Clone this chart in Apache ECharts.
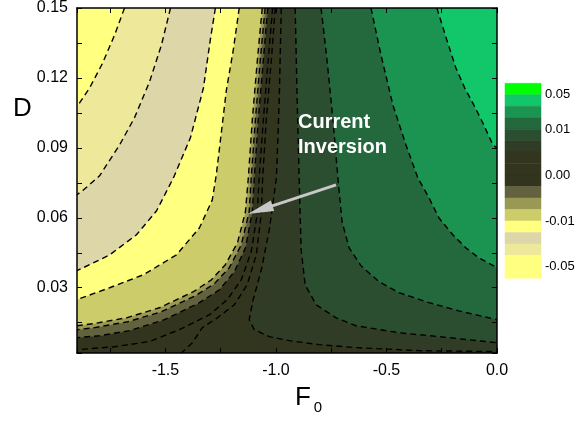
<!DOCTYPE html>
<html>
<head>
<meta charset="utf-8">
<script src="https://cdn.jsdelivr.net/npm/echarts@6/dist/echarts.min.js"></script>
<style>
  html, body { margin: 0; padding: 0; background: #ffffff; }
  #chart { width: 579px; height: 423px; }
</style>
</head>
<body>
<div id="chart"></div>
<script>
// Plot ranges
const F0_MIN = -1.9, F0_MAX = 0.0;
const D_MIN = 0.002, D_MAX = 0.15;

// Colour of each level, top of the colour bar first (level 1 .. level 16)
const levelColors = ['#00ff00', '#12c66a', '#1a9450', '#24683e', '#2b4e30', '#313c26',
  '#33361f', '#33351e', '#33341e', '#63623f', '#999955', '#cccc6a',
  '#ffff80', '#dcd6a8', '#ede89a', '#ffff80'];

// Colour bar: block edges (in block units, top to bottom) and its labels
const cbarEdges = [0, 1, 2, 3, 4, 5, 6, 7, 8, 9, 10, 11, 12, 13, 14, 15, 17];
const cbarTickPos = [1, 4, 8, 12, 16];
const cbarTickText = ['0.05', '0.01', '0.00', '-0.01', '-0.05'];

// Contour lines [F0, D] that bend towards the left edge (the region above/left of each
// line belongs to the first level in its name)
const bound16_15 = [[-1.685, 0.15], [-1.730, 0.1384], [-1.784, 0.1264], [-1.843, 0.1157], [-1.9, 0.1076]];
const bound15_14 = [[-1.477, 0.15], [-1.518, 0.1341], [-1.572, 0.1183], [-1.640, 0.1029], [-1.707, 0.0913],
  [-1.798, 0.0780], [-1.870, 0.0720], [-1.9, 0.0699]];
const bound14_13 = [[-1.274, 0.15], [-1.297, 0.1363], [-1.328, 0.1157], [-1.387, 0.0943], [-1.464, 0.0771],
  [-1.540, 0.0630], [-1.631, 0.0527], [-1.752, 0.0441], [-1.843, 0.0399], [-1.9, 0.0373]];
const bound13_12 = [[-1.166, 0.15], [-1.193, 0.1320], [-1.224, 0.1149], [-1.251, 0.0934], [-1.270, 0.0784],
  [-1.288, 0.0677], [-1.346, 0.0557], [-1.450, 0.0441], [-1.599, 0.0356], [-1.752, 0.0300], [-1.9, 0.0249]];
const bound12_11 = [[-1.062, 0.15], [-1.084, 0.1277], [-1.107, 0.1020], [-1.125, 0.0771], [-1.138, 0.0626],
  [-1.174, 0.0493], [-1.229, 0.0399], [-1.292, 0.0334], [-1.373, 0.0283], [-1.527, 0.0214], [-1.676, 0.0171],
  [-1.825, 0.0146], [-1.9, 0.0137]];
const bound11_10 = [[-1.049, 0.15], [-1.071, 0.1277], [-1.093, 0.1020], [-1.112, 0.0771], [-1.121, 0.0626],
  [-1.157, 0.0484], [-1.211, 0.0386], [-1.279, 0.0317], [-1.364, 0.0266], [-1.518, 0.0197], [-1.671, 0.0154],
  [-1.820, 0.0129], [-1.9, 0.0120]];
const bound10_9 = [[-1.037, 0.15], [-1.057, 0.1277], [-1.080, 0.1020], [-1.098, 0.0771], [-1.107, 0.0626],
  [-1.138, 0.0471], [-1.188, 0.0369], [-1.256, 0.0291], [-1.346, 0.0236], [-1.504, 0.0163], [-1.662, 0.0116],
  [-1.798, 0.0094], [-1.9, 0.0086]];
const bound9_8 = [[-1.015, 0.15], [-1.035, 0.1277], [-1.057, 0.1020], [-1.076, 0.0771], [-1.085, 0.0613],
  [-1.112, 0.0454], [-1.157, 0.0334], [-1.220, 0.0249], [-1.301, 0.0184], [-1.437, 0.0120], [-1.572, 0.0069],
  [-1.730, 0.0047], [-1.9, 0.0034]];
const bound8_7 = [[-1.003, 0.15], [-1.021, 0.1277], [-1.044, 0.1020], [-1.060, 0.0771], [-1.067, 0.0613],
  [-1.089, 0.0441], [-1.130, 0.0313], [-1.188, 0.0227], [-1.265, 0.0171], [-1.333, 0.0129], [-1.378, 0.0064],
  [-1.428, 0.002]];
const bound7_6 = [[-0.976, 0.15], [-0.985, 0.1106], [-0.998, 0.0771], [-1.030, 0.0549], [-1.066, 0.0377],
  [-1.103, 0.0249], [-1.121, 0.0163], [-1.098, 0.0120], [-1.030, 0.0090], [-0.940, 0.0073], [-0.805, 0.0056],
  [-0.638, 0.0043], [-0.353, 0.0030], [0, 0.0026]];

// Contour lines that bend towards the right edge (the region right of each line
// belongs to the second level in its name)
const bound6_5 = [[-0.913, 0.15], [-0.904, 0.1106], [-0.895, 0.0771], [-0.886, 0.0463], [-0.868, 0.0313],
  [-0.818, 0.0227], [-0.728, 0.0171], [-0.638, 0.0137], [-0.444, 0.0107], [-0.219, 0.0086], [0, 0.0064]];
const bound5_4 = [[-0.796, 0.15], [-0.769, 0.1277], [-0.742, 0.1020], [-0.719, 0.0763], [-0.701, 0.0583],
  [-0.669, 0.0471], [-0.615, 0.0394], [-0.534, 0.0326], [-0.444, 0.0279], [-0.308, 0.0236], [-0.173, 0.0201],
  [0, 0.0163]];
const bound4_3 = [[-0.570, 0.15], [-0.525, 0.1299], [-0.471, 0.1084], [-0.412, 0.0913], [-0.358, 0.0771],
  [-0.308, 0.0686], [-0.263, 0.0600], [-0.200, 0.0527], [-0.141, 0.0471], [-0.083, 0.0429], [0, 0.0386]];
const bound3_2 = [[-0.272, 0.15], [-0.227, 0.1363], [-0.186, 0.1243], [-0.146, 0.1157], [-0.105, 0.1084],
  [-0.060, 0.0999], [-0.019, 0.0913], [0, 0.0900]];

// Annotation arrow (tail, head centre) in data space
const arrowTail = [-0.728, 0.0741];
const arrowHead = [-1.0715, 0.0634];

const leftBounds = [bound7_6, bound8_7, bound9_8, bound10_9, bound11_10, bound12_11,
  bound13_12, bound14_13, bound15_14, bound16_15];
const leftLevels = [7, 8, 9, 10, 11, 12, 13, 14, 15, 16];
const rightBounds = [bound6_5, bound5_4, bound4_3, bound3_2];
const rightLevels = [5, 4, 3, 2];
const baseLevel = 6;

// Position of a border point along the frame: 0..1 top, 1..2 right, 2..3 bottom, 3..4 left
function edgeT(p) {
  const x = p[0], y = p[1], e = 1e-9;
  if (Math.abs(y - D_MAX) < e) return (x - F0_MIN) / (F0_MAX - F0_MIN);
  if (Math.abs(x - F0_MAX) < e) return 1 + (D_MAX - y) / (D_MAX - D_MIN);
  if (Math.abs(y - D_MIN) < e) return 2 + (F0_MAX - x) / (F0_MAX - F0_MIN);
  return 3 + (y - D_MIN) / (D_MAX - D_MIN);
}
const frameCorners = [[1, [F0_MAX, D_MAX]], [2, [F0_MAX, D_MIN]], [3, [F0_MIN, D_MIN]], [4, [F0_MIN, D_MAX]]];

// Close a contour into the polygon on its outer side along the frame
function sidePolygon(path, towardLeft) {
  const ts = edgeT(path[0]);
  const te = edgeT(path[path.length - 1]);
  let extra;
  if (towardLeft) {
    extra = frameCorners.filter(c => c[0] > te).map(c => c[1]);
  } else {
    extra = frameCorners.filter(c => c[0] > ts && c[0] < te).reverse().map(c => c[1]);
  }
  return path.concat(extra);
}

const fills = [{
  pts: [[F0_MIN, D_MIN], [F0_MAX, D_MIN], [F0_MAX, D_MAX], [F0_MIN, D_MAX]],
  color: levelColors[baseLevel - 1]
}];
leftBounds.forEach((b, i) => fills.push({ pts: sidePolygon(b, true), color: levelColors[leftLevels[i] - 1] }));
rightBounds.forEach((b, i) => fills.push({ pts: sidePolygon(b, false), color: levelColors[rightLevels[i] - 1] }));

const FONT = "'Liberation Sans', Arial, Helvetica, sans-serif";

const chart = echarts.init(document.getElementById('chart'), null, { renderer: 'canvas' });

const frameLine = { show: true, onZero: false, lineStyle: { color: '#000', width: 1.5 } };
const innerTick = { show: true, inside: true, length: 5, lineStyle: { color: '#000', width: 1 } };

function xTickLabel(v) {
  const k = v / 0.25;
  if (Math.abs(k - Math.round(k)) > 1e-6 || Math.round(k) % 2) return '';
  return v === 0 ? '0.0' : '-' + v.toFixed(1);
}
function yTickLabel(v) {
  const k = v / 0.015;
  if (Math.abs(k - Math.round(k)) > 1e-6 || Math.round(k) % 2) return '';
  return (D_MAX - v).toFixed(2);
}
function cbarLabel(v) {
  const i = cbarTickPos.indexOf(Math.round(v));
  return (i >= 0 && Math.abs(v - Math.round(v)) < 1e-6) ? cbarTickText[i] : '';
}

const series = [];

// Filled bands
series.push({
  type: 'custom',
  xAxisIndex: 0, yAxisIndex: 0,
  clip: true,
  silent: true,
  z: 1,
  data: fills.map(() => [F0_MIN, D_MIN]),
  renderItem: function (params, api) {
    const f = fills[params.dataIndex];
    return {
      type: 'polygon',
      shape: { points: f.pts.map(p => api.coord(p)) },
      style: { fill: f.color, stroke: f.color, lineWidth: 0.5 }
    };
  }
});

// Dashed contour lines
leftBounds.concat(rightBounds).forEach(b => {
  series.push({
    type: 'line',
    xAxisIndex: 0, yAxisIndex: 0,
    data: b,
    showSymbol: false,
    silent: true,
    z: 3,
    clip: true,
    lineStyle: { color: '#000', width: 1.4, type: [6, 4] }
  });
});

// Annotation arrow
series.push({
  type: 'line',
  xAxisIndex: 0, yAxisIndex: 0,
  data: [],
  z: 4,
  markLine: {
    silent: true,
    animation: false,
    symbol: ['none', 'triangle'],
    symbolSize: [11, 26],
    label: { show: false },
    lineStyle: { color: '#c8c8c8', width: 3, type: 'solid' },
    emphasis: { disabled: true },
    data: [[{ coord: arrowTail }, { coord: arrowHead }]]
  }
});

// Colour bar blocks
series.push({
  type: 'custom',
  xAxisIndex: 3, yAxisIndex: 3,
  silent: true,
  data: cbarEdges.slice(0, -1).map((e, i) => [e, cbarEdges[i + 1], i]),
  renderItem: function (params, api) {
    const p0 = api.coord([0, api.value(0)]);
    const p1 = api.coord([1, api.value(1)]);
    const c = levelColors[api.value(2)];
    return {
      type: 'rect',
      shape: { x: p0[0], y: Math.min(p0[1], p1[1]), width: p1[0] - p0[0], height: Math.abs(p1[1] - p0[1]) },
      style: { fill: c, stroke: c, lineWidth: 0.5 }
    };
  }
});

chart.setOption({
  animation: false,
  backgroundColor: '#ffffff',
  textStyle: { fontFamily: FONT },
  grid: [
    { left: 77, top: 8, width: 420, height: 345 },
    { left: 505, top: 83.3, width: 36, height: 195 }
  ],
  xAxis: [
    { type: 'value', gridIndex: 0, min: F0_MIN, max: F0_MAX, show: false },
    {
      type: 'value', gridIndex: 0, position: 'bottom', min: 0, max: 1.9, inverse: true, interval: 0.25, z: 10,
      axisLine: frameLine, axisTick: innerTick, splitLine: { show: false },
      axisLabel: { formatter: xTickLabel, color: '#000', fontSize: 16, margin: 10, fontFamily: FONT }
    },
    {
      type: 'value', gridIndex: 0, position: 'top', min: 0, max: 1.9, inverse: true, interval: 0.25, z: 10,
      axisLine: frameLine, axisTick: innerTick, splitLine: { show: false }, axisLabel: { show: false }
    },
    { type: 'value', gridIndex: 1, min: 0, max: 1, show: false }
  ],
  yAxis: [
    { type: 'value', gridIndex: 0, min: D_MIN, max: D_MAX, show: false },
    {
      type: 'value', gridIndex: 0, position: 'left', min: 0, max: D_MAX - D_MIN, inverse: true, interval: 0.015, z: 10,
      axisLine: frameLine, axisTick: innerTick, splitLine: { show: false },
      axisLabel: { formatter: yTickLabel, color: '#000', fontSize: 16, margin: 9, fontFamily: FONT }
    },
    {
      type: 'value', gridIndex: 0, position: 'right', min: 0, max: D_MAX - D_MIN, inverse: true, interval: 0.015, z: 10,
      axisLine: frameLine, axisTick: innerTick, splitLine: { show: false }, axisLabel: { show: false }
    },
    {
      type: 'value', gridIndex: 1, position: 'right', min: 0, max: 17, inverse: true, interval: 1,
      axisLine: { show: false }, axisTick: { show: false }, splitLine: { show: false },
      axisLabel: { formatter: cbarLabel, color: '#000', fontSize: 13, margin: 4, fontFamily: FONT,
        showMinLabel: true, showMaxLabel: true }
    }
  ],
  graphic: [
    { type: 'text', x: 22.5, y: 109, z: 10,
      style: { text: 'D', fill: '#000', font: '26px ' + FONT, textAlign: 'center', textVerticalAlign: 'middle' } },
    { type: 'text', x: 303, y: 398, z: 10,
      style: { text: 'F', fill: '#000', font: '26px ' + FONT, textAlign: 'center', textVerticalAlign: 'middle' } },
    { type: 'text', x: 318, y: 408, z: 10,
      style: { text: '0', fill: '#000', font: '15px ' + FONT, textAlign: 'center', textVerticalAlign: 'middle' } },
    { type: 'text', x: 298, y: 122.5, z: 10,
      style: { text: 'Current', fill: '#ffffff', font: 'bold 20px ' + FONT, textAlign: 'left', textVerticalAlign: 'middle' } },
    { type: 'text', x: 298, y: 147, z: 10,
      style: { text: 'Inversion', fill: '#ffffff', font: 'bold 20px ' + FONT, textAlign: 'left', textVerticalAlign: 'middle' } }
  ],
  series: series
});
</script>
</body>
</html>
